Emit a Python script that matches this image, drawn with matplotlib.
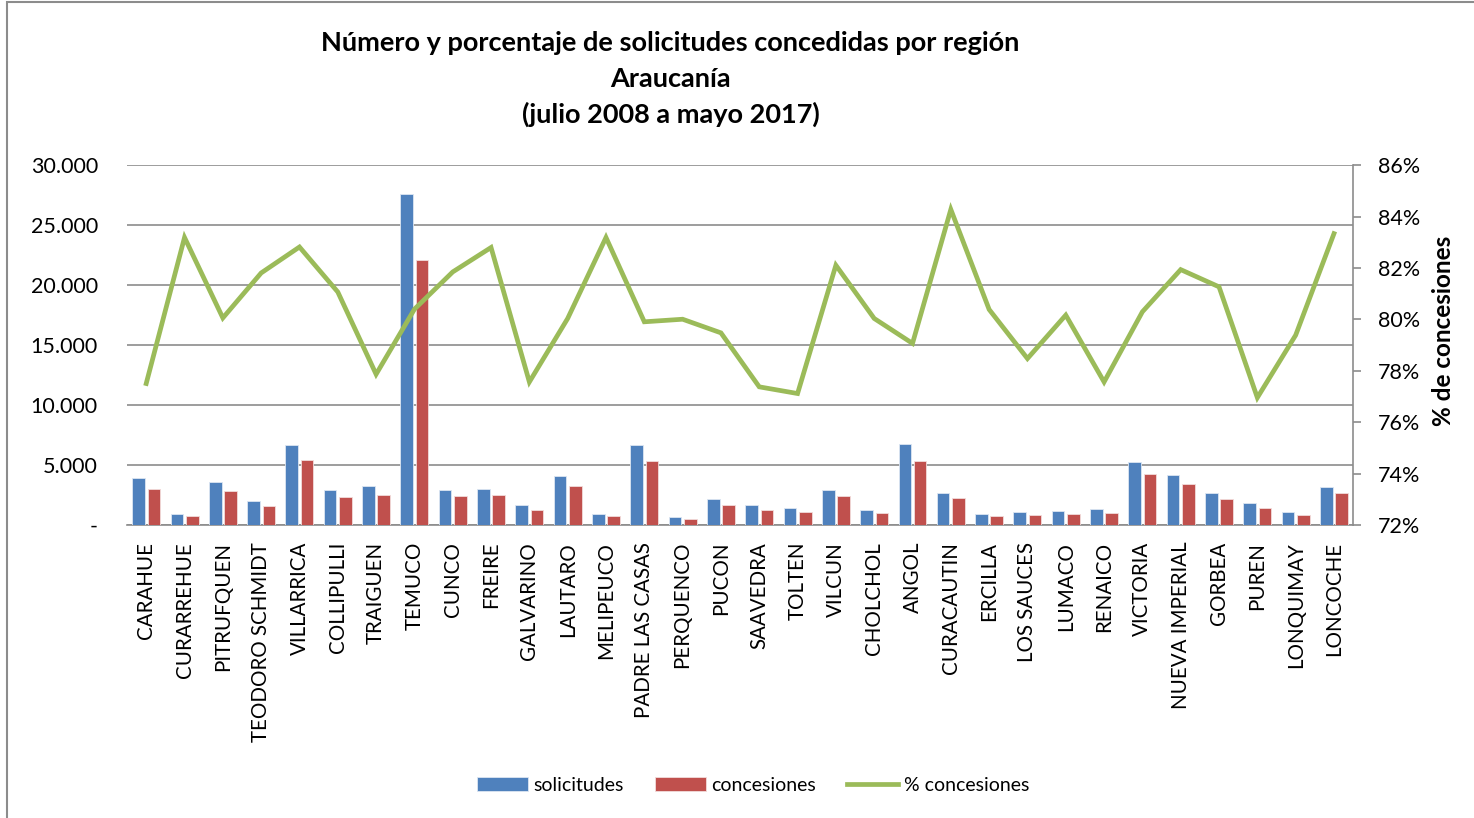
import numpy as np
import matplotlib
matplotlib.use("Agg")
import matplotlib.pyplot as plt
from matplotlib.ticker import FuncFormatter, MultipleLocator
from matplotlib.patches import Rectangle

plt.rcParams['font.family'] = ['Lato', 'DejaVu Sans']

comunas = ["CARAHUE", "CURARREHUE", "PITRUFQUEN", "TEODORO SCHMIDT", "VILLARRICA",
           "COLLIPULLI", "TRAIGUEN", "TEMUCO", "CUNCO", "FREIRE", "GALVARINO",
           "LAUTARO", "MELIPEUCO", "PADRE LAS CASAS", "PERQUENCO", "PUCON",
           "SAAVEDRA", "TOLTEN", "VILCUN", "CHOLCHOL", "ANGOL", "CURACAUTIN",
           "ERCILLA", "LOS SAUCES", "LUMACO", "RENAICO", "VICTORIA",
           "NUEVA IMPERIAL", "GORBEA", "PUREN", "LONQUIMAY", "LONCOCHE"]
solicitudes = [3890, 920, 3560, 2000, 6640, 2920, 3250, 27640, 2970, 3050, 1670,
               4080, 890, 6670, 670, 2140, 1640, 1420, 2970, 1250, 6750, 2690,
               940, 1060, 1140, 1310, 5300, 4170, 2640, 1830, 1110, 3140]
concesiones = [3000, 750, 2830, 1610, 5470, 2330, 2500, 22080, 2420, 2500, 1300,
               3280, 750, 5330, 530, 1720, 1280, 1080, 2420, 1000, 5330, 2250,
               750, 810, 890, 1030, 4280, 3420, 2140, 1390, 860, 2640]
pct_concesiones = [77.51, 83.19, 80.06, 81.81, 82.82, 81.07, 77.87, 80.4, 81.85,
                   82.80, 77.57, 80.04, 83.19, 79.91, 80.01, 79.48, 77.38, 77.12,
                   82.11, 80.04, 79.07, 84.28, 80.39, 78.48, 80.17, 77.57, 80.30,
                   81.94, 81.27, 76.96, 79.39, 83.34]

blue = "#4F81BD"
red = "#C0504D"
green = "#9BBB59"

fig = plt.figure(figsize=(14.74, 8.18), dpi=100)
ax = fig.add_axes([0.0862, 0.358, 0.8318, 0.44])
ax2 = ax.twinx()

x = np.arange(len(comunas))
w = 0.33
b1 = ax.bar(x - 0.2, solicitudes, w, color=blue, edgecolor="#DCE6F2", linewidth=0.6,
            label="solicitudes", zorder=3)
b2 = ax.bar(x + 0.2, concesiones, w, color=red, edgecolor="#F2DCDB", linewidth=0.6,
            label="concesiones", zorder=3)
l1, = ax2.plot(x, pct_concesiones, color=green, linewidth=3.4, solid_joinstyle="miter",
               label="% concesiones", zorder=4)

ax.set_xlim(-0.5, len(comunas) - 0.5)
ax.set_ylim(0, 30000)
ax.yaxis.set_major_locator(MultipleLocator(5000))
ax.yaxis.set_major_formatter(FuncFormatter(
    lambda v, p: "-" if v == 0 else f"{int(v):,}".replace(",", ".")))
ax.grid(axis="y", color="#8C8C8C", linewidth=1.2, zorder=0)
ax.set_axisbelow(True)
ax2.set_ylim(72, 86)
ax2.yaxis.set_major_locator(MultipleLocator(2))
ax2.yaxis.set_major_formatter(FuncFormatter(lambda v, p: f"{v:.0f}%"))

for s in ["top", "left"]:
    ax.spines[s].set_visible(False)
    ax2.spines[s].set_visible(False)
ax.spines["right"].set_visible(False)
ax2.spines["bottom"].set_visible(False)
ax.spines["bottom"].set_color("#8C8C8C")
ax.spines["bottom"].set_linewidth(1.2)
ax2.spines["right"].set_color("#8C8C8C")
ax2.spines["right"].set_linewidth(1.2)

ax.set_xticks(x)
ax.set_xticklabels(comunas, rotation=90, fontsize=14.8)
ax.tick_params(axis="x", length=0, pad=12)
ax.tick_params(axis="y", length=0, labelsize=15.5, pad=21)
ax2.tick_params(axis="y", length=6, width=1.2, color="#8C8C8C", labelsize=15.5, pad=12)
ax2.set_ylabel("% de concesiones", fontsize=17.5, fontweight="bold")
ax2.yaxis.set_label_coords(1.064, 0.54)

fig.text(0.455, 0.948, "Número y porcentaje de solicitudes concedidas por región",
         ha="center", va="center", fontsize=19.5, fontweight="bold")
fig.text(0.455, 0.904, "Araucanía", ha="center", va="center", fontsize=19.5, fontweight="bold")
fig.text(0.455, 0.860, "(julio 2008 a mayo 2017)", ha="center", va="center",
         fontsize=19.5, fontweight="bold")

fig.legend([b1, b2, l1], ["solicitudes", "concesiones", "% concesiones"],
           loc="center", bbox_to_anchor=(0.511, 0.04), ncol=3, frameon=False,
           fontsize=14, handlelength=2.6, handleheight=0.7, columnspacing=1.6,
           handletextpad=0.3)

fig.patches.append(Rectangle((0.005, -0.1), 1.2, 1.097, transform=fig.transFigure,
                             fill=False, edgecolor="#8C8C8C", linewidth=1.5))

fig.savefig("out.png", dpi=100)
